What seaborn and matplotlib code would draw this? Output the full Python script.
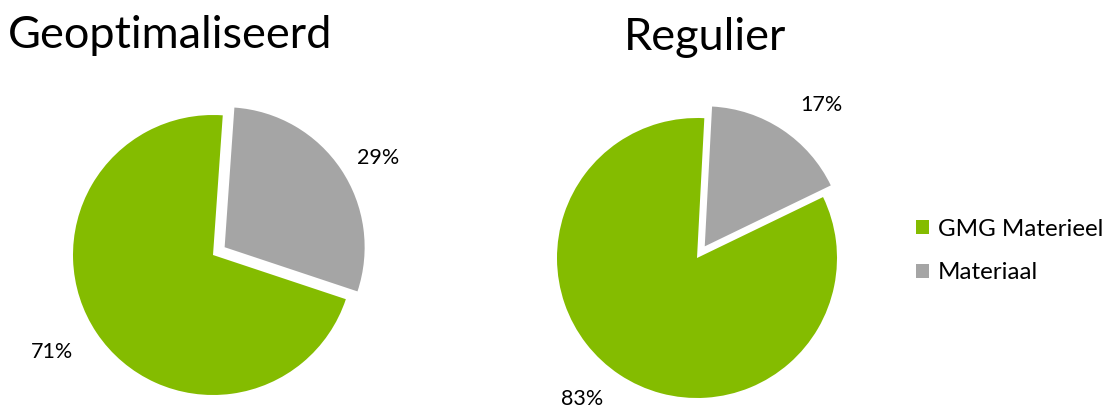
import matplotlib
matplotlib.use("Agg")
import numpy as np
import matplotlib.pyplot as plt
import seaborn as sns

sns.set_theme(style="white")
plt.rcParams['font.family'] = ['Lato', 'DejaVu Sans']
plt.rcParams['text.color'] = 'black'

categories = ["GMG Materieel", "Materiaal"]
titles = ["Geoptimaliseerd", "Regulier"]
values_opt = [71, 29]
values_reg = [83, 17]
colors = ["#84BC00", "#A5A5A5"]

W, H = 1110, 409
fig = plt.figure(figsize=(W / 100, H / 100), dpi=100)

def make_ax(cx, cy, r=140):
    half = 1.5 * r
    return fig.add_axes([(cx - half) / W, (H - cy - half) / H, 2 * half / W, 2 * half / H])

ax1 = make_ax(213, 255)
ax2 = make_ax(697, 258)

# label placement (angle in degrees, distance in radii) mimicking "best fit"
label_pos = {
    0: [(211, 1.34), (30.5, 1.37)],
    1: [(230.8, 1.30), (51, 1.41)],
}

wedges = None
for i, (ax, vals, start) in enumerate([(ax1, values_opt, 86), (ax2, values_reg, 87)]):
    w, t, a = ax.pie(vals, colors=colors, startangle=start, counterclock=True,
                     explode=[0, 0.1], autopct="%d%%", pctdistance=1.36,
                     wedgeprops=dict(linewidth=0),
                     textprops=dict(fontsize=15.5, color="black"))
    for txt, (ang, dist) in zip(a, label_pos[i]):
        th = np.deg2rad(ang)
        txt.set_position((dist * np.cos(th), dist * np.sin(th)))
        txt.set_clip_on(False)
    if wedges is None:
        wedges = w
    ax.set_xlim(-1.5, 1.5)
    ax.set_ylim(-1.5, 1.5)
    ax.set_aspect("equal")
    ax.axis("off")

fig.text(170 / W, 1 - 36 / H, titles[0], fontsize=32.5, ha="center", va="center", color="black")
fig.text(705 / W, 1 - 38 / H, titles[1], fontsize=32.5, ha="center", va="center", color="black")

fig.legend(wedges, categories, loc="center left", bbox_to_anchor=(916 / W, 1 - 251 / H),
           frameon=False, fontsize=17.4, handlelength=0.55, handleheight=0.55,
           handletextpad=0.35, labelspacing=0.95, borderpad=0, borderaxespad=0,
           labelcolor="black")

fig.savefig("out.png", dpi=100)
